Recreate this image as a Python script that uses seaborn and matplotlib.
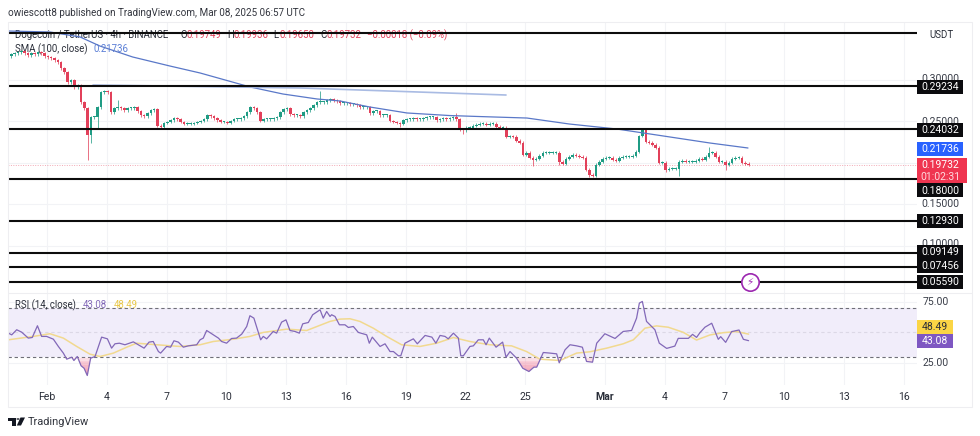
# DOGE/USDT 4h chart with SMA and RSI panes
import numpy as np
import matplotlib
matplotlib.use("Agg")
import matplotlib.pyplot as plt
from matplotlib.patches import Rectangle, Polygon, Circle
import seaborn as sns

# -------------------------------
# Data
# -------------------------------
# 4h closes, x is in days after Feb 1
first_candle_day = -1.957
closes = [
    .3287, .3311, .3323, .3335, .3347, .3323, .3299, .3323, .3311, .3335, .3323, .3287,
    .3275, .3263, .3239, .3215, .3142, .3094,
    .2974, .2998, .2913, .2938, .2733, .2660, .2335, .2552, .2552, .2673, .2853, .2865,
    .2853, .2612, .2660, .2673, .2660, .2636, .2660, .2660, .2673, .2624, .2576, .2564,
    .2600, .2636, .2648, .2444, .2432, .2480, .2492, .2516, .2540, .2528, .2492, .2468,
    .2468, .2468, .2480, .2492, .2504, .2528, .2576, .2564, .2540, .2516, .2492, .2492,
    .2480, .2504, .2528, .2528, .2540, .2564, .2612, .2673, .2660, .2612, .2504, .2528,
    .2528, .2528, .2540, .2552, .2612, .2648, .2660, .2588, .2576, .2576, .2564, .2612,
    .2636, .2660, .2697, .2733, .2733, .2733, .2757,
    .2769, .2757, .2745, .2721, .2721, .2721, .2709, .2709, .2697, .2673, .2673, .2673,
    .2600, .2624, .2624, .2576, .2576, .2576, .2504, .2492, .2480, .2468, .2516, .2528,
    .2528, .2540, .2528, .2528, .2540, .2552, .2552, .2552, .2516, .2528, .2540, .2528,
    .2540, .2552, .2528, .2407, .2395, .2420, .2420, .2444, .2456, .2468, .2468, .2456,
    .2468, .2468, .2432, .2420, .2420, .2311, .2323, .2311, .2263, .2239, .2094, .2118,
    .2058, .2034, .2046, .2082, .2118, .2118, .2118, .2118, .2118, .2010, .1986, .2046,
    .2070, .2094, .2082, .2070, .2058, .1913, .1853, .1841, .1974, .2010, .2046, .2058,
    .2058, .2034, .2022, .2058, .2070, .2070, .2070, .2082,
    .2130, .2323, .2407, .2251, .2239, .2215, .2179, .1998, .1998, .1913, .1926, .1926,
    .1926, .2010, .2022, .2010, .2010, .2010, .2022, .2046, .2034, .2070, .2118, .2118,
    .2070, .2010, .2010, .1974, .1998, .2046, .2058, .2058, .1998, .1986, .1973,
]
# long wicks only, candle index -> price
long_highs = {33: .2757, 94: .2865, 135: .2600, 211: .2191}
long_lows = {24: .2034, 25: .2239, 27: .2420, 118: .2432, 137: .2347, 158: .1962,
             166: .1974, 175: .1825, 198: .1889, 202: .1841, 216: .1913}
short_wick = 0.0018

# SMA(100)
sma_days = [-1.96, .15, 1.66, 2.65, 4.3, 6.17, 7.68, 10.19, 11.84, 13.55, 14.7, 16.2, 18.06,
            20.2, 21.7, 24.08, 26.2, 28.6, 30.76, 33.27, 35.17]
sma_values = [.3591, .3579, .3519, .3410, .3277, .3168, .3084, .2915, .2830, .2770, .2746, .2673,
              .2601, .2570, .2558, .2540, .2468, .2407, .2329, .2238, .2178]

# drawn trend line
trend_days = [2.31, 12.7, 23.03]
trend_values = [.2939, .2903, .2818]

# support / resistance levels
levels = [.3563, .29234, .24032, .18, .1293, .09149, .07456, .0559]

# RSI(14)
rsi_days = [-1.94, -1.77, -1.52, -1.27, -.94, -.74, -.48, -.27, -.02, .32, .57, .82, .99,
            1.24, 1.35, 1.52, 1.71, 1.86, 2.02, 2.19, 2.41, 2.74, 3.03, 3.24, 3.41, 3.63,
            3.91, 4.33, 4.58, 4.87, 5.12, 5.33, 5.59, 5.70, 6.00, 6.20, 6.37, 6.59, 6.84,
            7.09, 7.51, 7.68, 7.84, 8.01, 8.26, 8.60, 8.76, 9.01, 9.26, 9.51, 9.77, 10.02,
            10.18, 10.38, 10.72, 10.85, 11.02, 11.35, 11.52, 11.77, 11.99, 12.19, 12.44,
            12.66, 12.83, 13.11, 13.33, 13.70, 13.86, 14.03, 14.2, 14.28, 14.45, 14.67,
            14.95, 15.12, 15.37, 15.62, 16.04, 16.17, 16.32, 16.71, 16.96, 17.21, 17.38,
            17.63, 17.75, 17.96, 18.38, 18.58, 18.97, 19.31, 19.51, 19.72, 19.97, 20.13,
            20.39, 20.64, 20.76, 20.89, 21.22, 21.39, 21.64, 21.89, 22.03, 22.19, 22.53,
            22.86, 23.03, 23.23, 23.56, 23.87, 24.18, 24.43, 24.57, 24.90, 25.24, 25.57,
            25.70, 25.99, 26.24, 26.57, 26.86, 27.07, 27.37, 27.58, 27.99, 28.50, 28.91,
            29.33, 29.58, 29.72, 29.87, 30.08, 30.50, 30.72, 31.09, 31.5, 31.67, 32.18,
            32.39, 32.59, 32.76, 33.01, 33.35, 33.68, 33.8, 34.05, 34.35, 34.72, 34.94, 35.2]
rsi_values = [49.3, 47.9, 52.1, 50.1, 45.2, 45.7, 55.4, 46.6, 46.6, 44.3, 38.3, 32.8, 27.8,
              29.4, 26.7, 30, 22.3, 20.3, 14.3, 28.6, 30, 46, 44.6, 36.9, 40.5, 41,
              39.7, 42.1, 39.7, 36.9, 41.9, 42.4, 34.1, 32.8, 38.3, 37.7, 43, 41.9, 37.7,
              38.8, 39.7, 43.8, 45.2, 51.5, 48.8, 45.2, 42.4, 41, 44.9, 45.2, 48.5, 54.8,
              63.7, 61.7, 43.8, 46.6, 44.6, 50.7, 49.3, 58.4, 60.3, 51.5, 50.7,
              49.3, 57, 58.1, 64.5, 68.6, 61.7, 67.2, 63.1, 64.5, 63.1, 56.2,
              56.2, 54, 54.8, 49.9, 47.9, 41, 46, 38.3, 40.5, 34.1, 34.1,
              30.6, 30.6, 41, 44.6, 40.5, 47.4, 46, 41, 47.4, 46.6, 44.6,
              49.3, 45.2, 30.6, 30.6, 38.3, 38.8, 43.8, 43.8, 39.7, 45.2, 37.7,
              41.9, 29.4, 34.1, 28.6, 20.3, 17.6, 21.2, 21.2, 33.3, 32.8, 32.2,
              24.8, 35.5, 39.7, 38.8, 37.7, 25.9, 25.3, 41, 48.8, 44.9, 50.7,
              51.5, 61.7, 74.1, 75.5, 59, 52.1, 41, 36.7, 38.6, 45, 45,
              48.3, 45.8, 49.7, 54.2, 57.5, 44.2, 46.4, 41.7, 50.6, 51.9, 44.2, 43.08]

# RSI moving average
rsi_ma_days = [-1.94, -.69, .15, .82, 1.49, 2.16, 2.66, 3.33, 4.0, 4.5, 5.5, 6.67, 7.68, 8.34,
               9.35, 10.18, 10.85, 12.02, 13.03, 14.2, 14.7, 15.2, 15.7, 16.37, 17.04, 17.79,
               18.71, 19.55, 20.39, 21.22, 22.22, 23.31, 24.06, 24.73, 25.74, 26.57, 27.24,
               28.08, 28.91, 29.42, 30, 30.58, 31.17, 31.92, 32.59, 33.26, 33.93, 34.6, 35.2]
rsi_ma_values = [43.8, 46.6, 48.8, 45.2, 38.3, 31.9, 30, 32.8, 37.7, 41, 39.7, 38.3, 39.7, 42.4,
                 44.3, 46.6, 49.9, 52.6, 51.5, 59, 60.9, 61.2, 59, 53.4, 46.6, 39.7,
                 38.3, 41, 45.7, 42.4, 39.7, 38.8, 34.1, 27.8, 26.7, 32.8, 33.9,
                 36.9, 40.5, 43.8, 53.4, 55.3, 54.2, 50, 43.6, 47.8, 49.7, 50.6, 48.49]

tick_days = [0, 3, 6, 9, 12, 15, 18, 21, 24, 28, 31, 34, 37, 40, 43]
tick_labels = ["Feb", "4", "7", "10", "13", "16", "19", "22", "25", "Mar", "4", "7", "10", "13", "16"]
price_grid = [.30, .25, .20, .15, .10]
rsi_grid = [75, 25]

# -------------------------------
# Figure and panes
# -------------------------------
sns.set_theme(style="white")
plt.rcParams["font.family"] = ["Roboto", "DejaVu Sans"]

W, H = 980, 436
fig = plt.figure(figsize=(W / 100, H / 100), dpi=100, facecolor="white")

LEFT, RIGHT = 8, 917


def pane(top, bottom):
    a = fig.add_axes([LEFT / W, 1 - bottom / H, (RIGHT - LEFT) / W, (bottom - top) / H])
    a.set_facecolor("none")
    a.set_xlim(first_candle_day, 43.65)
    for s in a.spines.values():
        s.set_visible(False)
    a.set_xticks([])
    a.set_yticks([])
    a.set_xlabel("")
    a.set_ylabel("")
    return a


ax = pane(22, 293)
ax.set_ylim(0.18 + (179.3 - 293) / 828, 0.18 + (179.3 - 22) / 828)
rsi_ax = pane(293, 385)
rsi_ax.set_ylim(30 + (356.5 - 385) / 1.21, 30 + (356.5 - 293) / 1.21)

GRID = "#f2f3f6"
for a in (ax, rsi_ax):
    for d in tick_days:
        a.axvline(d, color=GRID, lw=0.8, zorder=0)
for p in price_grid:
    ax.axhline(p, color=GRID, lw=0.8, zorder=0)
for r in rsi_grid:
    rsi_ax.axhline(r, color=GRID, lw=0.8, zorder=0)


def txt(x, y, s, color="#2a2e39", size=7.1, ha="left", target=None, **kw):
    # x, y are figure pixels from the top left
    (target or fig).text(x / W, 1 - y / H, s, color=color, fontsize=size, ha=ha, va="center",
                         transform=fig.transFigure, **kw)


def box(x0, y0, x1, y1, color, zorder=2):
    fig.add_artist(Rectangle((x0 / W, 1 - y1 / H), (x1 - x0) / W, (y1 - y0) / H,
                             transform=fig.transFigure, facecolor=color, edgecolor="none", zorder=zorder))


# -------------------------------
# Candles
# -------------------------------
UP, DOWN = "#1f9c84", "#e2405a"
days = first_candle_day + np.arange(len(closes)) / 6
closes_arr = np.array(closes)
opens = np.r_[closes_arr[0], closes_arr[:-1]]
highs = np.maximum(opens, closes_arr) + short_wick
lows = np.minimum(opens, closes_arr) - short_wick
for i, v in long_highs.items():
    highs[i] = v
for i, v in long_lows.items():
    lows[i] = v
colors = [UP if c >= o else DOWN for o, c in zip(opens, closes_arr)]

# legend text goes under the marks
LEG = 6.9
txt(15, 35, "Dogecoin / TetherUS · 4h · BINANCE", target=ax, zorder=1, size=LEG)
for x, letter, value in [(180, "O", "0.19749"), (227, "H", "0.19936"),
                         (273, "L", "0.19650"), (320, "C", "0.19732")]:
    txt(x, 35, letter, target=ax, zorder=1, size=LEG)
    txt(x + 6, 35, value, color=DOWN, target=ax, zorder=1, size=LEG)
txt(367, 35, "−0.00018 (−0.09%)", color=DOWN, target=ax, zorder=1, size=LEG)
txt(15, 49, "SMA (100, close)", target=ax, zorder=1, size=LEG)
txt(93, 49, "0.21736", color="#5b7fd6", target=ax, zorder=1, size=LEG)

ax.vlines(days, lows, highs, colors=colors, lw=0.7, alpha=0.75, zorder=3)
ax.bar(days, np.maximum(np.abs(closes_arr - opens), 0.0008),
       bottom=np.minimum(closes_arr, opens), width=0.13, color=colors, linewidth=0, zorder=4)

# last price dotted line
ax.axhline(closes[-1], color=DOWN, lw=0.7, ls=(0, (1, 1.5)), alpha=0.45, zorder=1)

# -------------------------------
# SMA, trend line and levels
# -------------------------------
sns.lineplot(x=sma_days, y=sma_values, ax=ax, color="#5a78c8", linewidth=0.9, zorder=5, errorbar=None)
sns.lineplot(x=trend_days, y=trend_values, ax=ax, color="#a9bbe3", linewidth=1.2, zorder=5, errorbar=None)
ax.hlines(levels, first_candle_day, 43.65, colors="#0c0c0c", lw=1.5, zorder=6)
ax.set_xlabel("")
ax.set_ylabel("")

# alert icon on the lowest level
ax.plot([35.27], [levels[-1]], marker="o", ms=12.5, mfc="white", mec="#9c27b0", mew=1.2, zorder=7)
ax.text(35.27, levels[-1], "⚡", color="#9c27b0", fontsize=7.5, ha="center", va="center",
        family=["DejaVu Sans"], zorder=8)

# -------------------------------
# RSI pane
# -------------------------------
rsi_ax.axhspan(30, 70, color="#f1edfa", lw=0, zorder=0.5)
for lvl, style, col in [(70, (0, (3, 2.5)), "#6f6f78"), (30, (0, (3, 2.5)), "#6f6f78"),
                        (50, (0, (3, 2.5)), "#dcd8e6")]:
    rsi_ax.axhline(lvl, color=col, lw=0.8, ls=style, zorder=1)
# oversold fill fades out towards 30
rsi_arr = np.array(rsi_values)
for t in [29, 26, 23, 20, 17]:
    rsi_ax.fill_between(rsi_days, rsi_arr, t, where=rsi_arr < t, interpolate=True,
                        color="#f492ab", alpha=0.3, lw=0, zorder=1.5)
sns.lineplot(x=rsi_ma_days, y=rsi_ma_values, ax=rsi_ax, color="#f1d98f", linewidth=1.1, zorder=2, errorbar=None)
sns.lineplot(x=rsi_days, y=rsi_values, ax=rsi_ax, color="#8268b8", linewidth=0.9, zorder=3, errorbar=None)
rsi_ax.set_xlabel("")
rsi_ax.set_ylabel("")

txt(15, 305, "RSI (14, close)", size=LEG)
txt(83, 305, "43.08", color="#8268b8", size=LEG)
txt(114, 305, "48.49", color="#e9c84a", size=LEG)

# date labels
for d, lab in zip(tick_days, tick_labels):
    txt(47 + d * 19.93, 396.5, lab, ha="center", size=7.6,
        fontweight="bold" if lab == "Mar" else "normal")

# -------------------------------
# Price scale labels
# -------------------------------
TICK = "#3a3e49"
SCALE = 7.5
for y, s in [(79, "0.30000"), (122, "0.25000"), (204, "0.15000"), (244, "0.10000")]:
    txt(940, y, s, color=TICK, ha="center", size=SCALE, zorder=1)

for y, s in [(87, "0.29234"), (130, "0.24032"), (190.5, "0.18000"), (221, "0.12930"),
             (252, "0.09149"), (266, "0.07456"), (282, "0.05590")]:
    box(917, y - 7, 963, y + 7, "#0b0b0e")
    txt(940, y, s, color="white", ha="center", size=SCALE, zorder=3)

box(917, 142, 963, 156, "#2962ff")
txt(940, 149, "0.21736", color="white", ha="center", size=SCALE, zorder=3)
box(917, 158, 967, 183, "#ef3550", zorder=2.5)
txt(940, 165, "0.19732", color="white", ha="center", size=SCALE, zorder=3)
txt(940, 177, "01:02:31", color="#ffd9de", ha="center", size=SCALE, zorder=3)

txt(941, 35, "USDT", ha="center", size=7)
for y, s, bg, fg in [(327, "48.49", "#fbd545", "#2a2e39"), (341, "43.08", "#7e57c2", "white")]:
    box(917, y - 7, 953, y + 7, bg)
    txt(935, y, s, color=fg, ha="center", size=SCALE, zorder=3)
txt(936, 302, "75.00", color=TICK, ha="center", size=SCALE)
txt(936, 362.5, "25.00", color=TICK, ha="center", size=SCALE)

# -------------------------------
# Frame, header and footer
# -------------------------------
fig.add_artist(Rectangle((LEFT / W, 1 - 407 / H), (972 - LEFT) / W, (407 - 22) / H, transform=fig.transFigure,
                         fill=False, edgecolor="#eeeef1", lw=0.8, zorder=0.5))
fig.add_artist(plt.Line2D([LEFT / W, 972 / W], [1 - 293 / H] * 2, color="#eeeef1", lw=0.8, zorder=0.5))

txt(8, 12.5, "owiescott8 published on TradingView.com, Mar 08, 2025 06:57 UTC", color="#33363f")

# TradingView logo, in figure pixels
LOGO = "#131722"
to_fig = lambda pts: [(x / W, 1 - y / H) for x, y in pts]
fig.add_artist(Polygon(to_fig([(8, 417.5), (15.5, 417.5), (15.5, 425.5), (12, 425.5), (12, 420.5), (8, 420.5)]),
                       transform=fig.transFigure, facecolor=LOGO, edgecolor="none"))
fig.add_artist(Polygon(to_fig([(20.5, 417.5), (25, 417.5), (21, 425.5), (16.8, 425.5)]),
                       transform=fig.transFigure, facecolor=LOGO, edgecolor="none"))
fig.add_artist(Circle((18 / W, 1 - 419 / H), 1.6 / W, transform=fig.transFigure, facecolor=LOGO, edgecolor="none"))
txt(28, 422, "TradingView", color="#33363f", size=7.9)

fig.savefig("out.png", dpi=100)
